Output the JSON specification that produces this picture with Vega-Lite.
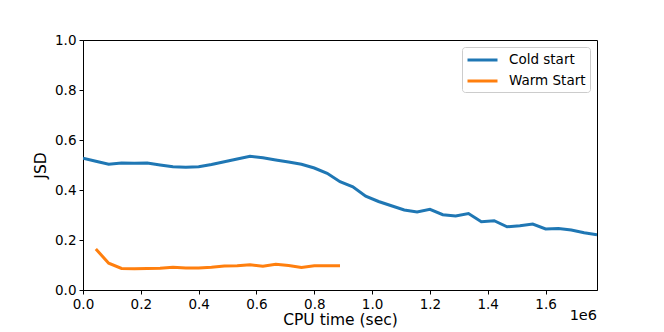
{
  "$schema": "https://vega.github.io/schema/vega-lite/v6.json",
  "width": 514,
  "height": 250,
  "autosize": {"type": "none"},
  "padding": {"left": 83, "top": 40, "right": 67, "bottom": 42},
  "background": "white",
  "title": {"text": "1e6", "orient": "bottom", "anchor": "end", "frame": "group", "offset": -19, "fontSize": 14.5, "fontWeight": "normal", "font": "DejaVu Sans", "color": "black"},
  "data": {
    "values": [
      {"t": 0, "jsd": 0.527, "series": "Cold start"},
      {"t": 44450, "jsd": 0.515, "series": "Cold start"},
      {"t": 88900, "jsd": 0.503, "series": "Cold start"},
      {"t": 133350, "jsd": 0.508, "series": "Cold start"},
      {"t": 177800, "jsd": 0.507, "series": "Cold start"},
      {"t": 222250, "jsd": 0.508, "series": "Cold start"},
      {"t": 266700, "jsd": 0.5, "series": "Cold start"},
      {"t": 311150, "jsd": 0.493, "series": "Cold start"},
      {"t": 355600, "jsd": 0.491, "series": "Cold start"},
      {"t": 400050, "jsd": 0.493, "series": "Cold start"},
      {"t": 444500, "jsd": 0.502, "series": "Cold start"},
      {"t": 488950, "jsd": 0.513, "series": "Cold start"},
      {"t": 533400, "jsd": 0.524, "series": "Cold start"},
      {"t": 577850, "jsd": 0.535, "series": "Cold start"},
      {"t": 622300, "jsd": 0.529, "series": "Cold start"},
      {"t": 666750, "jsd": 0.52, "series": "Cold start"},
      {"t": 711200, "jsd": 0.512, "series": "Cold start"},
      {"t": 755650, "jsd": 0.503, "series": "Cold start"},
      {"t": 800100, "jsd": 0.488, "series": "Cold start"},
      {"t": 844550, "jsd": 0.467, "series": "Cold start"},
      {"t": 889000, "jsd": 0.433, "series": "Cold start"},
      {"t": 933450, "jsd": 0.413, "series": "Cold start"},
      {"t": 977900, "jsd": 0.375, "series": "Cold start"},
      {"t": 1022350, "jsd": 0.354, "series": "Cold start"},
      {"t": 1066800, "jsd": 0.337, "series": "Cold start"},
      {"t": 1111250, "jsd": 0.32, "series": "Cold start"},
      {"t": 1155700, "jsd": 0.312, "series": "Cold start"},
      {"t": 1200150, "jsd": 0.323, "series": "Cold start"},
      {"t": 1244600, "jsd": 0.301, "series": "Cold start"},
      {"t": 1289050, "jsd": 0.296, "series": "Cold start"},
      {"t": 1333500, "jsd": 0.306, "series": "Cold start"},
      {"t": 1377950, "jsd": 0.273, "series": "Cold start"},
      {"t": 1422400, "jsd": 0.277, "series": "Cold start"},
      {"t": 1466850, "jsd": 0.253, "series": "Cold start"},
      {"t": 1511300, "jsd": 0.257, "series": "Cold start"},
      {"t": 1555750, "jsd": 0.264, "series": "Cold start"},
      {"t": 1600200, "jsd": 0.244, "series": "Cold start"},
      {"t": 1644650, "jsd": 0.246, "series": "Cold start"},
      {"t": 1689100, "jsd": 0.24, "series": "Cold start"},
      {"t": 1733550, "jsd": 0.229, "series": "Cold start"},
      {"t": 1778000, "jsd": 0.221, "series": "Cold start"},
      {"t": 44450, "jsd": 0.164, "series": "Warm Start"},
      {"t": 88900, "jsd": 0.107, "series": "Warm Start"},
      {"t": 133350, "jsd": 0.086, "series": "Warm Start"},
      {"t": 177800, "jsd": 0.085, "series": "Warm Start"},
      {"t": 222250, "jsd": 0.086, "series": "Warm Start"},
      {"t": 266700, "jsd": 0.087, "series": "Warm Start"},
      {"t": 311150, "jsd": 0.091, "series": "Warm Start"},
      {"t": 355600, "jsd": 0.088, "series": "Warm Start"},
      {"t": 400050, "jsd": 0.088, "series": "Warm Start"},
      {"t": 444500, "jsd": 0.091, "series": "Warm Start"},
      {"t": 488950, "jsd": 0.096, "series": "Warm Start"},
      {"t": 533400, "jsd": 0.097, "series": "Warm Start"},
      {"t": 577850, "jsd": 0.101, "series": "Warm Start"},
      {"t": 622300, "jsd": 0.095, "series": "Warm Start"},
      {"t": 666750, "jsd": 0.103, "series": "Warm Start"},
      {"t": 711200, "jsd": 0.098, "series": "Warm Start"},
      {"t": 755650, "jsd": 0.09, "series": "Warm Start"},
      {"t": 800100, "jsd": 0.097, "series": "Warm Start"},
      {"t": 844550, "jsd": 0.097, "series": "Warm Start"},
      {"t": 889000, "jsd": 0.097, "series": "Warm Start"}
    ]
  },
  "mark": {"type": "line", "strokeWidth": 3, "clip": true},
  "encoding": {
    "x": {
      "field": "t", "type": "quantitative",
      "scale": {"domain": [0, 1778000], "nice": false, "zero": false},
      "axis": {"title": "CPU time (sec)", "values": [0, 200000, 400000, 600000, 800000, 1000000, 1200000, 1400000, 1600000], "labelExpr": "format(datum.value / 1000000, '.1f')"}
    },
    "y": {
      "field": "jsd", "type": "quantitative",
      "scale": {"domain": [0, 1], "nice": false},
      "axis": {"title": "JSD", "values": [0, 0.2, 0.4, 0.6, 0.8, 1.0], "format": ".1f"}
    },
    "color": {
      "field": "series", "type": "nominal",
      "scale": {"domain": ["Cold start", "Warm Start"], "range": ["#1f77b4", "#ff7f0e"]},
      "legend": {
        "title": null, "orient": "top-right", "offset": 7,
        "symbolType": "M-1,0H3", "symbolSize": 225, "symbolStrokeWidth": 3,
        "labelFontSize": 13.5, "labelFont": "DejaVu Sans", "labelColor": "black", "labelOffset": 25,
        "rowPadding": 5, "padding": 4, "strokeColor": "#cccccc", "fillColor": "white", "cornerRadius": 3
      }
    }
  },
  "config": {
    "view": {"stroke": "black", "strokeWidth": 1},
    "axis": {
      "grid": false, "domainColor": "black", "tickColor": "black", "tickSize": 4,
      "labelFont": "DejaVu Sans", "labelFontSize": 13.5, "labelColor": "black", "labelPadding": 3,
      "titleFont": "DejaVu Sans", "titleFontSize": 15.5, "titleFontWeight": "normal", "titleColor": "black"
    },
    "axisX": {"titlePadding": 2, "labelFlush": false, "labelOverlap": false},
    "axisY": {"titlePadding": 6}
  }
}
